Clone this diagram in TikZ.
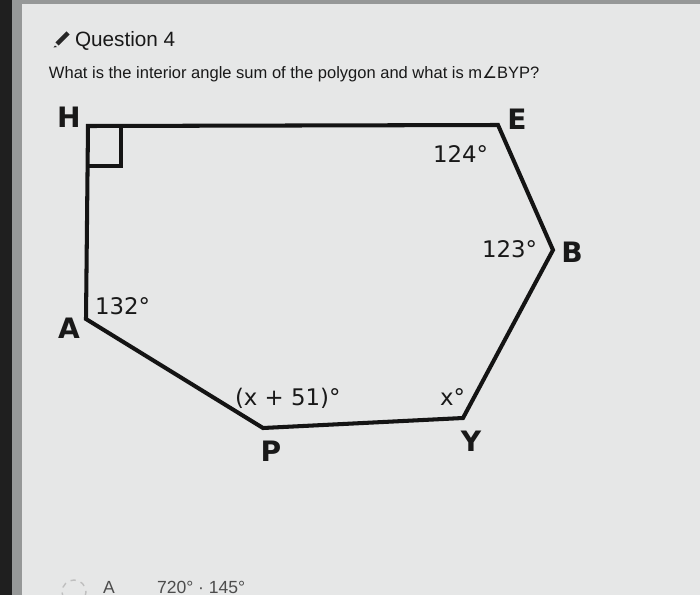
\documentclass[tikz,border=0pt]{standalone}
\usepackage{fontspec}
\setmainfont{Liberation Sans}
\newfontfamily\labelfont{DejaVu Sans}
\usetikzlibrary{positioning}
\definecolor{screenGray}{RGB}{230,231,231}
\definecolor{frameGray}{RGB}{150,152,152}
\tikzset{%
  % Specifications for style of nodes:
    base/.style = {inner sep=0pt, outer sep=0pt, text=black!90},
    vertexLabel/.style = {base, font=\labelfont\bfseries\fontsize{16}{18}\selectfont},
    angleLabel/.style = {base, anchor=base west, font=\labelfont\fontsize{13}{15}\selectfont},
    questionText/.style = {base, anchor=base west},
    side/.style = {line width=2.3pt, line join=miter, black!92},
}

\begin{document}
\begin{tikzpicture}[x=0.02cm, y=-0.02cm]
  \useasboundingbox (0,0) rectangle (700,595);
  \clip (0,0) rectangle (700,595);
  % screen background
  \fill[screenGray] (0,0) rectangle (700,595);
  \fill[frameGray] (0,0) rectangle (700,4);
  \fill[frameGray] (12,0) rectangle (22,595);
  \fill[black!88] (0,0) rectangle (12,595);

  % question header
  \coordinate (pencilTop) at (68,33);
  \coordinate (pencilEnd) at (57,44);
  \draw[line width=2.6pt, black!85] (pencilTop) -- (pencilEnd);
  \fill[black!85] (pencilEnd) ++(-2,1.5) -- ++(-1.5,2) -- ++(3.5,-0.5) -- cycle;
  \node (question)  [questionText, font=\fontsize{11.8}{13}\selectfont] at (75,47) {Question 4};
  \node (prompt)    [questionText, font=\fontsize{9.4}{11}\selectfont] at (49,78)
        {What is the interior angle sum of the polygon and what is m{\labelfont∠}BYP?};

  % polygon corners
  \coordinate (H) at (88,126);
  \coordinate (E) at (498,125);
  \coordinate (B) at (553,250);
  \coordinate (Y) at (463,418);
  \coordinate (P) at (263,428);
  \coordinate (A) at (86,319);
  \coordinate (sqLow) at (88,166);
  \coordinate (sqCorner) at (121,166);
  \coordinate (sqTop) at (121,126);

  % Specification of the sides
  \draw[side] (H) -- (E) -- (B) -- (Y) -- (P) -- (A) -- cycle;
  \draw[line width=1.8pt, black!92] (sqLow) -- (sqCorner) -- (sqTop);

  % corner names
  \node (labH) [vertexLabel] at (69,117) {H};
  \node (labE) [vertexLabel] at (517,119) {E};
  \node (labB) [vertexLabel] at (572,252) {B};
  \node (labA) [vertexLabel] at (69,328) {A};
  \node (labP) [vertexLabel] at (271,451) {P};
  \node (labY) [vertexLabel] at (471,441) {Y};

  % angle sizes
  \node (angE) [angleLabel] at (433,162) {124°};
  \node (angB) [angleLabel] at (482,257) {123°};
  \node (angA) [angleLabel] at (95,314) {132°};
  \node (angP) [angleLabel] at (235,405) {(x + 51)°};
  \node (angY) [angleLabel] at (440,405) {x°};

  % answer choice at the foot of the screen
  \draw[black!25, line width=0.8pt, dashed] (74,592) circle (12);
  \node (choiceA)   [questionText, text=black!70, font=\fontsize{10}{12}\selectfont] at (103,593) {A};
  \node (choiceVal) [questionText, text=black!70, font=\fontsize{10}{12}\selectfont] at (157,593) {720° · 145°};
\end{tikzpicture}
\end{document}
